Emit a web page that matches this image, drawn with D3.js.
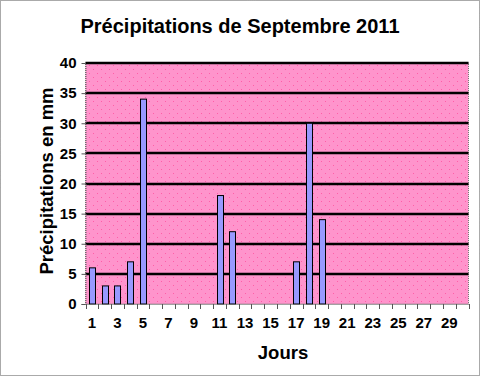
<!DOCTYPE html>
<html><head><meta charset="utf-8">
<script src="https://cdn.jsdelivr.net/npm/d3@7"></script>
<style>body{margin:0;background:#fff}svg{display:block}text{font-family:"Liberation Sans",Arial,sans-serif;font-weight:bold;fill:#000}</style>
</head><body>
<script>
const days = d3.range(1,31);
const rain = [6,3,3,7,34,0,0,0,0,0,18,12,0,0,0,0,7,30,14,0,0,0,0,0,0,0,0,0,0,0];
const yTicks = [0,5,10,15,20,25,30,35,40];
const xLabels = days.filter(d=>d%2===1);
const title = "Précipitations de Septembre 2011";
const yTitle = "Précipitations en mm";
const xTitle = "Jours";

const W=481,H=377;
const svg=d3.select("body").append("svg").attr("width",W).attr("height",H);
const defs=svg.append("defs");
const pat=defs.append("pattern").attr("id","dots").attr("patternUnits","userSpaceOnUse").attr("width",8).attr("height",8);
pat.append("rect").attr("width",8).attr("height",8).attr("fill","#ff94cc");
pat.append("rect").attr("x",1).attr("y",1).attr("width",1).attr("height",1).attr("fill","#ff5ea8");
pat.append("rect").attr("x",5).attr("y",5).attr("width",1).attr("height",1).attr("fill","#ff5ea8");

svg.append("rect").attr("x",0.5).attr("y",0.5).attr("width",W-2).attr("height",H-2)
  .attr("fill","#fff").attr("stroke","#555").attr("stroke-dasharray","1,1");

const L=85.5,R=468.5,T=63,B=304;
const x=d3.scaleBand().domain(days).range([L,R]);
const y=d3.scaleLinear().domain([0,40]).range([B,T]);

svg.append("rect").attr("x",L).attr("y",T).attr("width",R-L).attr("height",B-T)
  .attr("fill","url(#dots)").attr("stroke","#777").attr("stroke-dasharray","1,1");

svg.append("g").selectAll("line").data(yTicks.filter(v=>v>0)).join("line")
  .attr("x1",L).attr("x2",R).attr("y1",d=>Math.round(y(d))).attr("y2",d=>Math.round(y(d)))
  .attr("stroke","#000").attr("stroke-width",2.5);

const bw=6;
svg.append("g").selectAll("rect").data(days.filter((d,i)=>rain[i]>0)).join("rect")
  .attr("x",d=>Math.round(x(d)+x.bandwidth()/2-bw/2)+0.5)
  .attr("y",d=>y(rain[d-1]))
  .attr("width",bw).attr("height",d=>B-y(rain[d-1]))
  .attr("fill","#9999ff").attr("stroke","#000").attr("stroke-width",1);

// y axis
const ya=svg.append("g").attr("transform",`translate(${L},0)`)
  .call(d3.axisLeft(y).tickValues(yTicks).tickSize(4).tickPadding(5));
ya.select(".domain").attr("stroke","#666").attr("stroke-dasharray","1,1");
ya.selectAll(".tick line").attr("stroke","#555");
ya.selectAll("text").style("font-size","15px").style("font-family","Liberation Sans, Arial").style("font-weight","bold");

// x axis
const xa=svg.append("g").attr("transform",`translate(0,${B})`);
xa.append("line").attr("x1",L).attr("x2",R).attr("y1",0.5).attr("y2",0.5).attr("stroke","#666").attr("stroke-dasharray","1,1");
xa.selectAll("line.t").data(d3.range(0,31)).join("line").attr("class","t")
  .attr("x1",i=>Math.round(L+i*x.step())+0.5).attr("x2",i=>Math.round(L+i*x.step())+0.5)
  .attr("y1",0).attr("y2",5).attr("stroke","#555");
xa.selectAll("text").data(xLabels).join("text")
  .attr("x",d=>x(d)+x.bandwidth()/2).attr("y",24).attr("text-anchor","middle")
  .style("font-size","15px").text(d=>d);

svg.append("text").attr("x",240).attr("y",33).attr("text-anchor","middle").style("font-size","20px").text(title);
svg.append("text").attr("transform","translate(53,181) rotate(-90)").attr("text-anchor","middle").style("font-size","18.5px").text(yTitle);
svg.append("text").attr("x",283).attr("y",359).attr("text-anchor","middle").style("font-size","18.5px").text(xTitle);
</script>
</body></html>
